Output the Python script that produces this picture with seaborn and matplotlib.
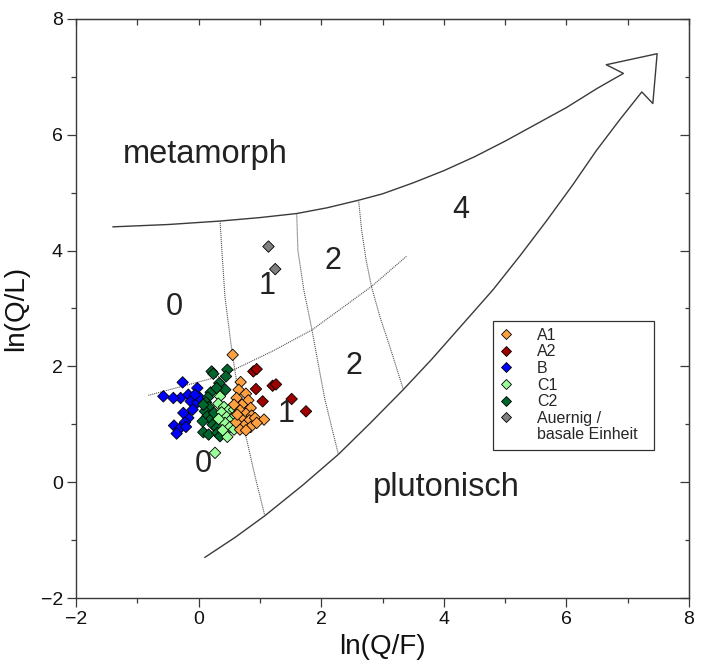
import numpy as np
import pandas as pd
import matplotlib
matplotlib.use("Agg")
import matplotlib.pyplot as plt
import seaborn as sns
from matplotlib.lines import Line2D
from matplotlib.ticker import MultipleLocator

# ---------------- data ----------------
groups = ["B", "C2", "C1", "A1", "A2", "Auernig"]
legend_order = ["A1", "A2", "B", "C1", "C2", "Auernig"]
legend_labels = ["A1", "A2", "B", "C1", "C2", "Auernig /"]
colors = {"A1": "#FFA040", "A2": "#9E0000", "B": "#0000FF",
          "C1": "#99FF99", "C2": "#00662E", "Auernig": "#808080"}

a1_x = [0.556, 0.686, 0.654, 0.773, 0.621, 0.811, 0.708, 0.850, 0.675, 0.773, 0.866, 0.703,
        0.828, 0.920, 1.067, 0.741, 0.850, 0.948, 0.675, 0.773, 0.610, 0.632, 0.578]
a1_y = [2.200, 1.729, 1.597, 1.528, 1.454, 1.414, 1.339, 1.282, 1.242, 1.184, 1.150, 1.092,
        1.069, 1.110, 1.081, 0.978, 0.955, 1.024, 0.909, 0.897, 1.035, 1.167, 1.339]
a2_x = [0.893, 0.947, 0.936, 1.208, 1.263, 1.045, 1.518, 1.752]
a2_y = [1.913, 1.953, 1.609, 1.666, 1.689, 1.396, 1.437, 1.224]
b_x = [-0.575, -0.260, -0.021, -0.293, -0.167, -0.129, -0.021, -0.097, -0.167, -0.222,
       -0.401, -0.314, -0.358, -0.206, 0.023, -0.059, -0.412, -0.249]
b_y = [1.483, 1.724, 1.626, 1.454, 1.511, 1.396, 1.379, 1.253, 1.110, 1.035,
       0.978, 0.920, 0.840, 0.955, 1.454, 1.511, 1.454, 1.196]
c1_x = [0.349, 0.322, 0.414, 0.502, 0.578, 0.376, 0.458, 0.540, 0.431, 0.513, 0.578,
        0.469, 0.393, 0.327, 0.600, 0.268]
c1_y = [1.483, 1.356, 1.299, 1.253, 1.253, 1.207, 1.127, 1.092, 1.024, 0.955, 0.909,
        0.783, 0.897, 1.092, 1.150, 0.507]
c2_x = [0.213, 0.240, 0.469, 0.447, 0.338, 0.436, 0.197, 0.153, 0.121, 0.164, 0.104, 0.142,
        0.197, 0.066, 0.230, 0.295, 0.077, 0.164, 0.306, 0.251, 0.295, 0.077, 0.349]
c2_y = [1.913, 1.873, 1.942, 1.827, 1.712, 1.597, 1.551, 1.465, 1.379, 1.299, 1.224, 1.138,
        1.081, 1.052, 0.995, 0.938, 0.863, 0.823, 0.851, 1.196, 1.626, 1.339, 0.794]
au_x = [1.14, 1.25]
au_y = [4.07, 3.68]

# field boundaries
upper_x = [-1.40, -0.50, 0.35, 1.00, 1.60, 2.10, 2.61, 3.00, 3.50, 4.00, 4.50, 5.00,
           5.50, 6.00, 6.50, 6.93]
upper_y = [4.41, 4.45, 4.51, 4.57, 4.64, 4.74, 4.87, 4.98, 5.17, 5.38, 5.62, 5.89,
           6.18, 6.47, 6.80, 7.06]
arrow_x = [6.93, 6.65, 7.48, 7.41, 7.23]
arrow_y = [7.06, 7.21, 7.40, 6.54, 6.74]
lower_x = [7.23, 6.87, 6.49, 6.10, 5.68, 5.25, 4.80, 4.30, 3.80, 3.34, 2.80, 2.28,
           1.70, 1.08, 0.60, 0.10]
lower_y = [6.74, 6.26, 5.73, 5.13, 4.52, 3.92, 3.32, 2.72, 2.12, 1.60, 1.02, 0.48,
           -0.05, -0.58, -0.95, -1.30]

lineA_x = [0.35, 0.38, 0.43, 0.54, 0.64, 0.76, 0.91, 1.08]
lineA_y = [4.51, 4.00, 3.20, 2.29, 1.60, 0.85, 0.15, -0.58]
lineB_x = [1.60, 1.62, 1.72, 1.85, 1.95, 2.06, 2.28]
lineB_y = [4.64, 4.00, 3.30, 2.63, 2.05, 1.43, 0.48]
lineC_x = [2.61, 2.66, 2.73, 2.82, 2.96, 3.12, 3.34]
lineC_y = [4.87, 4.35, 3.85, 3.38, 2.85, 2.34, 1.60]
diag_x = [-0.82, 0.35, 0.57, 1.20, 1.85, 2.82, 3.39]
diag_y = [1.50, 1.83, 1.94, 2.26, 2.63, 3.38, 3.90]

field_labels = ["4", "2", "1", "0", "2", "1", "0"]
field_x = [4.28, 2.19, 1.12, -0.40, 2.54, 1.43, 0.077]
field_y = [4.70, 3.82, 3.38, 3.03, 2.00, 1.17, 0.31]

x_ticks = [-2, 0, 2, 4, 6, 8]
y_ticks = [-2, 0, 2, 4, 6, 8]

# ---------------- build frame ----------------
series = {"A1": (a1_x, a1_y), "A2": (a2_x, a2_y), "B": (b_x, b_y),
          "C1": (c1_x, c1_y), "C2": (c2_x, c2_y), "Auernig": (au_x, au_y)}
frames = [pd.DataFrame({"x": series[g][0], "y": series[g][1], "group": g}) for g in groups]
df = pd.concat(frames, ignore_index=True)

sns.set_style("ticks")
plt.rcParams["font.family"] = ["Liberation Sans", "DejaVu Sans"]

fig = plt.figure(figsize=(7.03, 6.66), dpi=100)
ax = fig.add_axes([0.1081, 0.1021, 0.872, 0.8694])

line_col = "#3a3a3a"
dot_col = "#555555"
ax.plot(upper_x + arrow_x[1:] + lower_x[1:], upper_y + arrow_y[1:] + lower_y[1:],
        color=line_col, lw=1.0, zorder=1, solid_joinstyle="round")
for lx, ly in [(lineA_x, lineA_y), (lineB_x, lineB_y), (lineC_x, lineC_y), (diag_x, diag_y)]:
    ax.plot(lx, ly, color=dot_col, lw=0.8, ls=(0, (1, 0.8)), zorder=1)

sns.scatterplot(data=df, x="x", y="y", hue="group", hue_order=groups, palette=colors,
                marker="D", s=34, edgecolor="black", linewidth=0.6, legend=False,
                zorder=3, ax=ax)

txt_col = "#222222"
ax.text(-1.23, 5.66, "metamorph", fontsize=23.5, color=txt_col, ha="left", va="center")
ax.text(2.845, -0.10, "plutonisch", fontsize=23.5, color=txt_col, ha="left", va="center")
for lab, fx, fy in zip(field_labels, field_x, field_y):
    ax.text(fx, fy, lab, fontsize=22, color=txt_col, ha="center", va="center")

ax.set_xlim(-2, 8)
ax.set_ylim(-2, 8)
ax.set_xticks(x_ticks)
ax.set_yticks(y_ticks)
ax.xaxis.set_minor_locator(MultipleLocator(1))
ax.yaxis.set_minor_locator(MultipleLocator(1))
ax.tick_params(which="major", direction="out", length=6.5, width=0.9, labelsize=14,
               pad=3, color=line_col, labelcolor="#111111")
ax.tick_params(which="minor", direction="out", length=3.5, width=0.9, color=line_col)
ax.set_xlabel("ln(Q/F)", fontsize=20, color="#111111", labelpad=4)
ax.set_ylabel("ln(Q/L)", fontsize=20, color="#111111", labelpad=8)
for sp in ax.spines.values():
    sp.set_color(line_col)
    sp.set_linewidth(1.0)

top = ax.secondary_xaxis("top")
top.set_xticks(x_ticks)
top.xaxis.set_minor_locator(MultipleLocator(1))
top.tick_params(which="both", direction="in", length=4, width=0.9, labeltop=False, color=line_col)
top.set_xticklabels([])
right = ax.secondary_yaxis("right")
right.set_yticks(y_ticks)
right.yaxis.set_minor_locator(MultipleLocator(1))
right.tick_params(which="major", direction="in", length=6.5, width=0.9, labelright=False, color=line_col)
right.tick_params(which="minor", direction="in", length=3, width=0.9, color=line_col)
right.set_yticklabels([])

handles = [Line2D([], [], marker="D", ls="none", markersize=5.6, markerfacecolor=colors[g],
                  markeredgecolor="black", markeredgewidth=0.6) for g in legend_order]
handles.append(Line2D([], [], ls="none", marker=None))
labels = legend_labels + ["basale Einheit\u00a0\u00a0"]
leg = ax.legend(handles, labels, loc="upper left", bbox_to_anchor=(0.680, 0.479),
                fontsize=11.5, frameon=True, fancybox=False, framealpha=1,
                edgecolor="#333333", borderpad=0.45, handlelength=0.7, handletextpad=1.6,
                labelspacing=0.1, borderaxespad=0)
leg.get_frame().set_linewidth(0.9)
leg.set_zorder(5)

fig.savefig("out.png", dpi=100)
